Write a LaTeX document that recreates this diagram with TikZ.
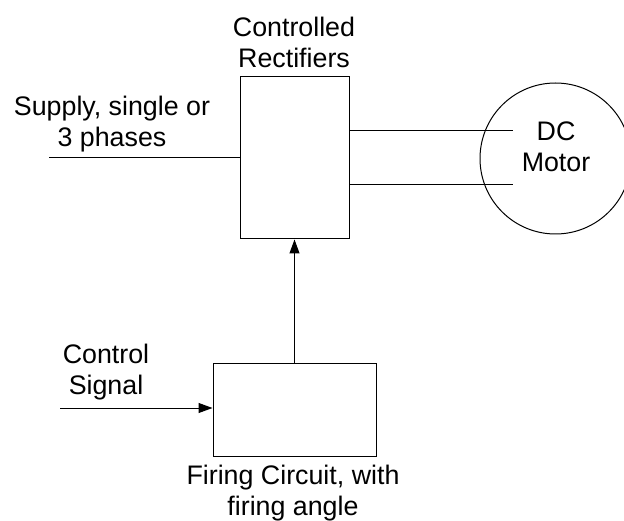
\documentclass[tikz,border=0pt]{standalone}
\usepackage{fontspec}
\setmainfont{Liberation Sans}
\usetikzlibrary{arrows.meta}
\begin{document}
\begin{tikzpicture}[x=1pt,y=-1pt,
  line width=1pt,
  blockbox/.style={draw, rectangle, inner sep=0pt},
  motorc/.style={draw, circle, inner sep=0pt, minimum size=151pt},
  lbl/.style={align=center, inner sep=0pt, anchor=north, font=\fontsize{26.8}{31}\selectfont},
  arr/.style={-{Triangle[length=14pt,width=10pt]}}]
\useasboundingbox (0,0) rectangle (624,521);
\node[blockbox, minimum width=109pt, minimum height=162pt] (rect) at (294.5,158) {};
\node[blockbox, minimum width=163pt, minimum height=92pt] (fire) at (294.5,410) {};
\node[motorc] (motor) at (555.5,158.5) {};
\node[lbl] (rectlbl) at (294,17) {Controlled\\Rectifiers};
\node[lbl] (supplbl) at (112,96) {Supply, single or\\3 phases};
\node[lbl] (ctrllbl) at (106,344) {Control\\Signal};
\node[lbl] (firelbl) at (293,465) {Firing Circuit, with\\firing angle};
\node[lbl] (motorlbl) at (556,121) {DC\\Motor};
\coordinate (sup) at (49,158);
\coordinate (m1) at (513,131);
\coordinate (m2) at (513,185);
\coordinate (ctl) at (60,408);
\draw (sup) -- (rect.west);
\draw (m1 -| rect.east) -- (m1);
\draw (m2 -| rect.east) -- (m2);
\draw[arr] (fire.north) -- (rect.south);
\draw[arr] (ctl) -- (ctl -| fire.west);
\end{tikzpicture}
\end{document}
